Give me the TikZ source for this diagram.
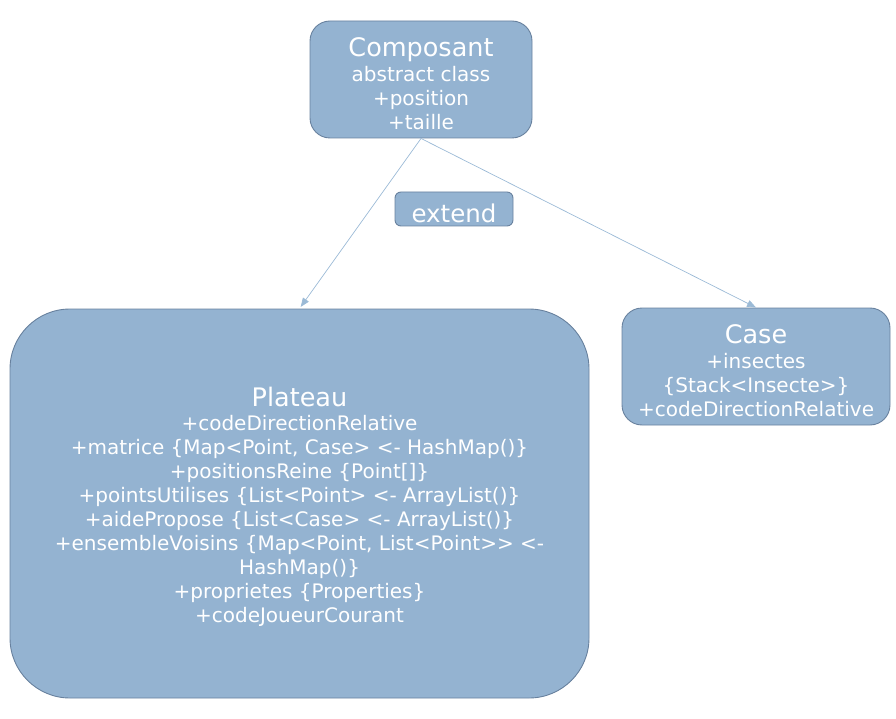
\documentclass[tikz,border=0pt]{standalone}
\usepackage{fontspec}
\setmainfont{DejaVu Sans}
\usetikzlibrary{arrows.meta}
\definecolor{boxfill}{HTML}{94B3D1}
\definecolor{boxdraw}{HTML}{68819E}
\definecolor{arrcol}{HTML}{9BBAD6}
\tikzset{
  umlbox/.style={draw=boxdraw, fill=boxfill, line width=0.9pt, inner sep=0pt},
  umltext/.style={text=white, inner sep=0pt, anchor=base, font=\fontsize{20}{24}\selectfont},
  inherit/.style={draw=arrcol, line width=0.7pt, -{Triangle[length=9pt,width=7pt]}},
}
\newcommand{\ttl}[1]{{\fontsize{25.5}{30}\selectfont #1}}
\begin{document}
\begin{tikzpicture}[x=1pt,y=-1pt]
\useasboundingbox (0,0) rectangle (896,719);
\node[umlbox, rounded corners=20pt, minimum width=222pt, minimum height=117pt] (comp) at (421,79.5) {};
\node[umlbox, rounded corners=6pt, minimum width=118pt, minimum height=34pt] (ext) at (454,209) {};
\node[umlbox, rounded corners=60pt, minimum width=579pt, minimum height=389pt] (plat) at (299.5,503.5) {};
\node[umlbox, rounded corners=20pt, minimum width=268pt, minimum height=117pt] (case) at (756,366.5) {};

\node[umltext] (compt) at (421,56.7) {\begin{tabular}[t]{@{}c@{}}\ttl{Composant}\\[1pt] abstract class\\ +position\\ +taille\end{tabular}};
\node[umltext, font=\fontsize{24.5}{28}\selectfont] (extt) at (454,222.7) {extend};
\node[umltext] (platt) at (299.5,406.4) {\begin{tabular}[t]{@{}c@{}}\ttl{Plateau}\\[0.5pt]
+codeDirectionRelative\\
+matrice \{Map<Point, Case> <- HashMap()\}\\
+positionsReine \{Point[]\}\\
+pointsUtilises \{List<Point> <- ArrayList()\}\\
+aidePropose \{List<Case> <- ArrayList()\}\\
+ensembleVoisins \{Map<Point, List<Point>{}> <-\\
HashMap()\}\\
+proprietes \{Properties\}\\
+codeJoueurCourant\end{tabular}};
\node[umltext] (caset) at (756,343) {\begin{tabular}[t]{@{}c@{}}\ttl{Case}\\[1pt] +insectes\\ \{Stack<Insecte>\}\\ +codeDirectionRelative\end{tabular}};

\draw[inherit, shorten >=2pt] (comp.south) -- (plat.north);
\draw[inherit] (comp.south) -- (case.north);
\end{tikzpicture}
\end{document}
